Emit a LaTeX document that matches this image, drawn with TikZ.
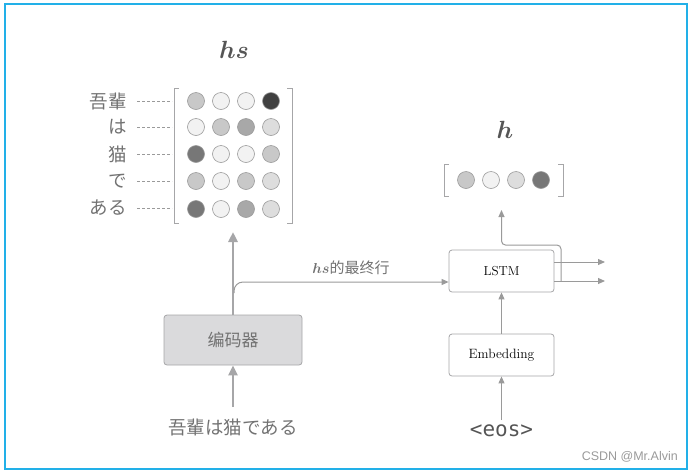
\documentclass[tikz,border=0pt]{standalone}
\usepackage{fontspec}
\usepackage{bm}
\usetikzlibrary{arrows.meta,calc}
\newfontfamily\jpfont{Noto Sans CJK JP}
\newfontfamily\scfont{Noto Sans CJK SC}
\newfontfamily\wmfont{Liberation Sans}
\newfontfamily\eosfont{DejaVu Sans Mono}
\definecolor{txtgray}{HTML}{727272}
\definecolor{lblgray}{HTML}{555555}
\definecolor{linegray}{HTML}{A6A6A8}
\definecolor{thingray}{HTML}{9A9A9A}
\definecolor{framecol}{HTML}{22B0E8}
\definecolor{encfill}{HTML}{DADADC}
\definecolor{gA}{HTML}{F2F2F2}
\definecolor{gB}{HTML}{DDDDDD}
\definecolor{gC}{HTML}{C8C8C8}
\definecolor{gD}{HTML}{A8A8A8}
\definecolor{gE}{HTML}{777777}
\definecolor{gF}{HTML}{404040}
\tikzset{
  cell/.style={circle,draw=thingray,line width=0.6pt,minimum size=17pt,inner sep=0pt},
  brk/.style={draw=linegray,line width=1pt},
  boxnode/.style={draw=linegray,rounded corners=3pt,line width=0.8pt,inner sep=0pt},
  thickarr/.style={draw=linegray,line width=2.6pt,-{Triangle[length=10pt,width=9pt]}},
  thinarr/.style={draw=thingray,line width=1pt,-{Triangle[length=7pt,width=6pt]}},
  dashline/.style={draw=thingray,line width=0.7pt,dash pattern=on 3pt off 2pt},
  jplabel/.style={text=txtgray,font=\jpfont\fontsize{18.5}{20}\selectfont,inner sep=0pt}
}
\begin{document}
\begin{tikzpicture}[x=1pt,y=-1pt]
\useasboundingbox (0,0) rectangle (691,472);
\draw[framecol,line width=1.6pt] (5,4) rectangle (687,469);

% hs title
\node[text=lblgray,font=\fontsize{29}{31}\selectfont] (hslbl) at (234,50) {$\bm{hs}$};

% hs matrix
\draw[brk] (179,88) -- (174,88) -- (174,223) -- (179,223);
\draw[brk] (287,88) -- (292,88) -- (292,223) -- (287,223);
\foreach \r/\y/\ca/\cb/\cc/\cd in {
  1/101/gC/gA/gA/gF,
  2/127/gA/gC/gD/gB,
  3/154/gE/gA/gA/gC,
  4/181/gC/gA/gC/gB,
  5/209/gE/gA/gD/gB}{
  \node[cell,fill=\ca] (m\r-1) at (196,\y) {};
  \node[cell,fill=\cb] (m\r-2) at (221,\y) {};
  \node[cell,fill=\cc] (m\r-3) at (246,\y) {};
  \node[cell,fill=\cd] (m\r-4) at (271,\y) {};
}
\foreach \r/\y/\t in {1/101/吾輩,2/127/は,3/154/猫,4/181/で,5/208/ある}{
  \node[jplabel,anchor=east] (w\r) at (127,\y) {\t};
  \coordinate (ds\r) at (137,\y);
  \coordinate (de\r) at (172,\y);
  \draw[dashline] (ds\r) -- (de\r);
}

% h title and vector
\node[text=lblgray,font=\fontsize{28}{30}\selectfont] (hlbl) at (505,130) {$\bm{h}$};
\draw[brk] (449,164) -- (444,164) -- (444,196) -- (449,196);
\draw[brk] (558,164) -- (563,164) -- (563,196) -- (558,196);
\node[cell,fill=gC] (h1) at (466,180) {};
\node[cell,fill=gA] (h2) at (491,180) {};
\node[cell,fill=gB] (h3) at (516,180) {};
\node[cell,fill=gE] (h4) at (541,180) {};

% encoder
\node[boxnode,fill=encfill,minimum width=138pt,minimum height=50pt,text=txtgray,font=\scfont\fontsize{17}{19}\selectfont] (enc) at (233,340) {编码器};
\node[jplabel] (inp) at (233,427) {吾輩は猫である};
\coordinate (inpTop) at (233,407);
\draw[thickarr] (inpTop) -- (enc.south);
\coordinate (matBot) at (233,232);
\draw[thickarr] (enc.north) -- (matBot);

% decoder
\node[boxnode,fill=white,minimum width=105pt,minimum height=42pt,font=\fontsize{13}{15}\selectfont] (lstm) at (501.5,271) {LSTM};
\node[boxnode,fill=white,minimum width=105pt,minimum height=42pt,font=\fontsize{13.5}{15}\selectfont] (emb) at (501.5,355) {Embedding};
\node[text=lblgray,font=\eosfont\fontsize{21}{23}\selectfont,inner sep=0pt] (eos) at (501.5,431) {<eos>};
\coordinate (eosTop) at (501.5,420);
\draw[thinarr] (eosTop) -- (emb.south);
\draw[thinarr] (emb.north) -- (lstm.south);

% hs last row connector
\coordinate (branch) at (234,293);
\coordinate (lstmIn) at ($(lstm.west)+(0,11)$);
\draw[thinarr,rounded corners=9pt] (branch) |- (lstmIn);
\node[text=txtgray,font=\scfont\fontsize{15}{17}\selectfont,inner sep=0pt] (lastlbl) at (351,268) {$\bm{hs}$的最终行};

% lstm outputs
\coordinate (o1s) at ($(lstm.east)+(0,-9)$);
\coordinate (o1e) at (605,262);
\coordinate (o2s) at ($(lstm.east)+(0,10)$);
\coordinate (o2e) at (605,281);
\draw[thinarr] (o1s) -- (o1e);
\draw[thinarr] (o2s) -- (o2e);
\coordinate (loopS) at (561,281);
\coordinate (hBot) at (501.5,210);
\draw[thinarr,rounded corners=4pt] (loopS) -- (561,245) -- (501.5,245) -- (hBot);

% watermark
\node[text=thingray,font=\wmfont\fontsize{12.5}{14}\selectfont,anchor=east,inner sep=0pt] (wm) at (678,457) {CSDN @Mr.Alvin};
\end{tikzpicture}
\end{document}
